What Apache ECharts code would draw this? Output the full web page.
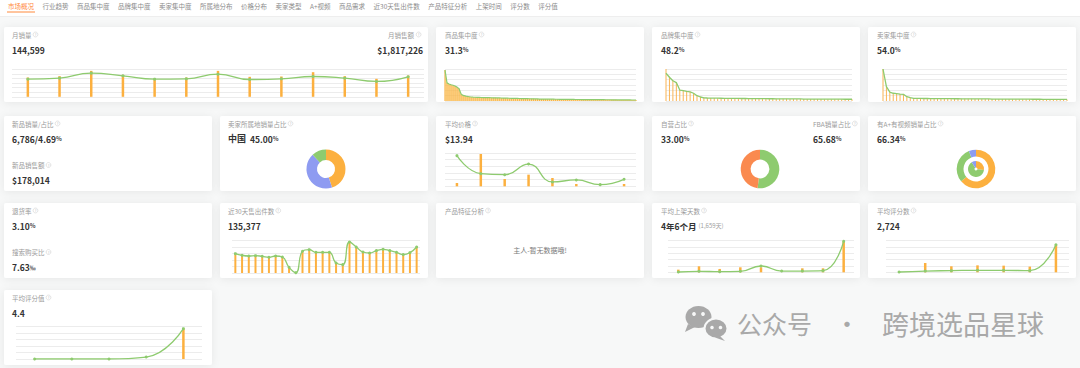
<!DOCTYPE html>
<html><head><meta charset="utf-8">
<script src="https://cdn.jsdelivr.net/npm/echarts@6/dist/echarts.min.js"></script>
<style>html,body{margin:0;padding:0;background:#f7f8f8;}#c{width:1080px;height:368px;}</style>
</head><body><div id="c"></div>
<script>
// ---------- data (relative heights) ----------
const tabLabels = ['市场概况','行业趋势','商品集中度','品牌集中度','卖家集中度','所属地分布','价格分布','卖家类型','A+视频','商品需求','近30天售出件数','产品特征分析','上架时间','评分数','评分值'];
const monthLabels = ['2024-06','2024-07','2024-08','2024-09','2024-10','2024-11','2024-12','2025-01','2025-02','2025-03','2025-04','2025-05','2025-06'];
const monthlyVolume = [3.88,4.10,5.20,4.61,3.88,3.95,4.97,3.80,3.95,4.46,4.10,3.37,4.39];
const monthlyRevenue = [4.24,4.54,5.70,4.83,4.02,4.24,5.70,4.39,4.46,5.41,4.54,3.95,4.68];
const productShare = [5.8,3.4,3.2,3.05,2.95,2.8,2.6,2.3,1.3,1.05,0.95,0.85,0.8,0.75,0.72,
  0.7,0.68,0.67,0.66,0.65,0.64,0.63,0.62,
  0.61,0.6,0.59,0.58,0.57,0.56,0.55,0.54,0.53,0.52,0.51,0.5,0.49,0.48,0.47,0.46,0.45,0.44,0.43,0.42,0.41,0.4,0.39,0.38,0.37,
  0.37,0.36,0.36,0.35,0.35,0.34,0.34,0.33,0.33,0.32,0.32,0.31,0.31,0.3,0.3,0.29,0.29,0.28,0.28,0.28,0.27,0.27,0.27,0.26,0.26,0.26,0.25,0.25,0.25,0.24,0.24,0.24,0.23,0.23,0.23,0.22,0.22,0.22,0.21,0.21,0.21,0.2,0.2,0.2,0.2,0.19,0.19,0.19];
const brandShareLine = [5.2,4.45,3.8,3.45,2.05,1.95,1.8,1.7,1.45,1.0,0.75,0.6,
  0.56,0.55,0.54,0.53,0.52,0.51,0.5,0.5,0.49,0.48,0.47,0.47,0.46,0.45,0.45,0.44,0.43,0.43,0.42,0.42,0.41,0.41,0.4,0.4,0.39,0.39,0.38,0.38,0.37,0.37,0.37,0.36,0.36,0.36,0.35,0.35,0.35,0.34,0.34,0.34,0.33,0.33,0.33];
const brandShareBar = [6.0,4.6,3.9,3.5,2.1,2.0,1.85,1.75,1.5,1.05,0.8,0.62,
  0.56,0.55,0.54,0.53,0.52,0.51,0.5,0.5,0.49,0.48,0.47,0.47,0.46,0.45,0.45,0.44,0.43,0.43,0.42,0.42,0.41,0.41,0.4,0.4,0.39,0.39,0.38,0.38,0.37,0.37,0.37,0.36,0.36,0.36,0.35,0.35,0.35,0.34,0.34,0.34,0.33,0.33,0.33];
const sellerShare = [6.0,2.7,1.65,1.45,1.38,1.3,1.25,0.8,0.62,
  0.5,0.49,0.48,0.47,0.47,0.46,0.45,0.45,0.44,0.44,0.43,0.43,0.42,0.42,0.41,0.41,0.4,0.4,0.39,0.39,0.38,0.38,0.38,0.37,0.37,0.37,0.36,0.36,0.36,0.35,0.35,0.35,0.34,0.34,0.34,0.33,0.33,0.33,0.32,0.32,0.32,0.31,0.31,0.31,0.3,0.3];
const priceBands = ['$0-5','$5-10','$10-15','$15-20','$20-25','$25-30','$30-35','$35+'];
const avgPriceLine = [4.6,1.9,1.74,3.34,0.65,0.95,0.25,1.05];
const priceBandVolume = [0.5,4.85,1.1,1.75,1.25,0.35,0,0.35];
const sold30Daily = [2.96,2.70,2.60,2.65,2.55,2.40,2.60,2.45,0.87,0.05,3.32,3.57,3.16,3.16,3.16,1.53,1.28,4.74,3.98,3.21,3.06,3.42,3.62,3.42,3.16,2.81,3.11,3.98];
const listingBands = ['<1月','1-3月','3-6月','6-12月','1-2年','2-3年','3-4年','4-5年','5年+'];
const listingLine = [0.05,0.16,0.1,0.16,1.0,0.2,0.2,0.26,4.9];
const listingBar = [0.42,0.95,0.53,0.79,0.79,0,0.63,0.63,4.9];
const reviewBands = ['0','1-10','10-50','50-100','100-500','500-1000','1000+'];
const reviewCountLine = [0.05,0.2,0.26,0.32,0.32,0.26,4.37];
const reviewCountBar = [0,1.47,0.95,1.1,1.05,0.9,4.37];
const ratingBands = ['<3.0','3.0-3.5','3.5-4.0','4.0-4.5','4.5-5.0'];
const ratingLine = [0,0,0,0.3,4.64];
const ratingBar = [0,0,0,0,4.64];
const originNames = ['中国','美国','其他'];
const originShare = [45,43,12];
const selfOpNames = ['非自营','自营'];
const selfOpShare = [52,48];
const aplusNames = ['有A+有视频','有A+无视频','无A+'];
const aplusOuter = [64,30,6];
const aplusInner = [27,64,9];

// ---------- helpers ----------
const ORANGE = '#fcb03f', GREEN = '#8ecb6f', PURPLE = '#8e9bf1', CORAL = '#fa8a4f', BLUE = '#8c9cf0';
const FONT = '"Noto Sans CJK SC","Noto Sans",sans-serif';
const f = (s, w) => (w || 'normal') + ' ' + s + 'px ' + FONT;
const mctx = document.createElement('canvas').getContext('2d');
const tw = (t, font) => { mctx.font = font; return mctx.measureText(t).width; };
const G = [];
const grids = [], xAxes = [], yAxes = [], series = [];

function txt(x, y, text, font, fill, align) {
  G.push({type:'text', x, y, silent:true, z:5,
    style:{text, font, fill, align:align||'left', verticalAlign:'middle', textAlign:align||'left', textVerticalAlign:'middle'}});
}
function icon(x, y) {
  G.push({type:'circle', silent:true, z:5, shape:{cx:x, cy:y, r:2.4}, style:{fill:'none', stroke:'#cfcfcf', lineWidth:0.6}});
  G.push({type:'text', x, y:y+0.2, silent:true, z:5, style:{text:'?', font:f(3.6), fill:'#c4c4c4', align:'center', verticalAlign:'middle', textAlign:'center', textVerticalAlign:'middle'}});
}
function title(x, y, text, rightAlign) {
  const font = f(6.5);
  if (rightAlign) { txt(x - 7, y, text, font, '#9a9a9a', 'right'); icon(x - 2.4, y); }
  else { txt(x, y, text, font, '#9a9a9a'); icon(x + tw(text, font) + 4, y); }
}
function val(x, y, num, unit, align) {
  const t = unit ? '{v|' + num + '}{u|' + unit + '}' : '{v|' + num + '}';
  G.push({type:'text', x, y, silent:true, z:5, style:{text:t, align:align||'left', verticalAlign:'middle', textAlign:align||'left', textVerticalAlign:'middle',
    rich:{v:{font:f(8.5,'bold'), fontSize:8.5, fontWeight:'bold', fontFamily:FONT, fill:'#333'},
          u:{font:f(6,'bold'), fontSize:6, fontWeight:'bold', fontFamily:FONT, fill:'#444'}}}});
}
function card(x, y, w, h) {
  G.push({type:'rect', silent:true, z:0, shape:{x, y, width:w, height:h, r:2},
    style:{fill:'#ffffff', shadowBlur:8, shadowColor:'rgba(0,0,0,0.07)', shadowOffsetY:1}});
}
function addChart(box, max, gap, cats) {
  const i = grids.length;
  grids.push({left:box[0], top:box[1], width:box[2], height:box[3], containLabel:false});
  xAxes.push({type:'category', gridIndex:i, data:cats, boundaryGap:gap, axisLine:{show:false}, axisTick:{show:false}, axisLabel:{show:false}, splitLine:{show:false}});
  yAxes.push({type:'value', gridIndex:i, min:0, max:max, interval:1, axisLine:{show:false}, axisTick:{show:false}, axisLabel:{show:false},
    splitLine:{show:true, lineStyle:{color:'#ececec', width:1}}});
  return i;
}
function addBar(i, data, w, color) {
  series.push({type:'bar', xAxisIndex:i, yAxisIndex:i, data, barWidth:w, silent:true, animation:false, itemStyle:{color:color||ORANGE}});
}
function addLine(i, data, o) {
  o = o || {};
  series.push(Object.assign({type:'line', xAxisIndex:i, yAxisIndex:i, data, smooth:true, silent:true, animation:false,
    symbol:'circle', symbolSize:3, itemStyle:{color:GREEN}, lineStyle:{color:GREEN, width:1.3}}, o));
}
const ranks = arr => arr.map((_, k) => k + 1);

// ---------- tab bar ----------
G.push({type:'rect', silent:true, z:0, shape:{x:0, y:0, width:1080, height:16.5}, style:{fill:'#ffffff'}});
G.push({type:'line', silent:true, z:0, shape:{x1:0, y1:16.5, x2:1080, y2:16.5}, style:{stroke:'#eeeeee', lineWidth:1}});
let tx = 8;
tabLabels.forEach((t, k) => {
  const font = f(6.5);
  const w = tw(t, font);
  txt(tx, 6, t, font, k === 0 ? '#ff8a3d' : '#8c8c8c');
  if (k === 0) G.push({type:'line', silent:true, z:5, shape:{x1:tx - 1, y1:12, x2:tx + w + 1, y2:12}, style:{stroke:'#ff8a3d', lineWidth:1}});
  tx += w + 8.5;
});

// ---------- cards ----------
const colX = [4, 220, 436, 652, 868], W = 208, H = 75;
const rowY = [27, 116, 203, 290];
card(4, rowY[0], 424, H);
[2, 3, 4].forEach(c => card(colX[c], rowY[0], W, H));
[0, 1, 2, 3, 4].forEach(c => card(colX[c], rowY[1], W, H));
[0, 1, 2, 3, 4].forEach(c => card(colX[c], rowY[2], W, H));
card(colX[0], rowY[3], W, H);

const tY = r => rowY[r] + 7.5, vY = r => rowY[r] + 22.5, t2Y = r => rowY[r] + 49, v2Y = r => rowY[r] + 64;

// row 1
title(12, tY(0), '月销量'); val(12, vY(0), '144,599');
title(421, tY(0), '月销售额', true); val(423, vY(0), '$1,817,226', '', 'right');
title(445, tY(0), '商品集中度'); val(445, vY(0), '31.3', '%');
title(661, tY(0), '品牌集中度'); val(661, vY(0), '48.2', '%');
title(877, tY(0), '卖家集中度'); val(877, vY(0), '54.0', '%');
// row 2
title(12, tY(1), '新品销量/占比'); val(12, vY(1), '6,786/4.69', '%');
title(12, t2Y(1), '新品销售额'); val(12, v2Y(1), '$178,014');
title(228, tY(1), '卖家所属地销量占比');
txt(228, vY(1), '中国', f(9, 'bold'), '#333'); val(250, vY(1), '45.00', '%');
title(445, tY(1), '平均价格'); val(445, vY(1), '$13.94');
title(661, tY(1), '自营占比'); val(661, vY(1), '33.00', '%');
title(813, tY(1), 'FBA销量占比'); val(813, vY(1), '65.68', '%');
title(877, tY(1), '有A+有视频销量占比'); val(877, vY(1), '66.34', '%');
// row 3
title(12, tY(2), '退货率'); val(12, vY(2), '3.10', '%');
title(12, t2Y(2), '搜索购买比'); val(12, v2Y(2), '7.63', '‰');
title(228, tY(2), '近30天售出件数'); val(228, vY(2), '135,377');
title(445, tY(2), '产品特征分析');
txt(540, rowY[2] + 46.5, '主人-暂无数据哦!', f(7), '#7a7a7a', 'center');
title(661, tY(2), '平均上架天数');
txt(661, vY(2), '4年6个月', f(8.5, 'bold'), '#333');
txt(661 + tw('4年6个月', f(8.5, 'bold')) + 2, vY(2), '(1,659天)', f(6), '#a0a0a0');
title(877, tY(2), '平均评分数'); val(877, vY(2), '2,724');
// row 4
title(12, tY(3), '平均评分值'); val(12, vY(3), '4.4');

// ---------- charts ----------
let g;
g = addChart([12, 69.5, 412, 27.3], 6, true, monthLabels);
addBar(g, monthlyRevenue, 2.5); addLine(g, monthlyVolume);

g = addChart([445, 69, 191, 32], 6, false, ranks(productShare));
addBar(g, productShare, 0.8, '#f5a52a');
addLine(g, productShare, {smooth:false, symbol:'none', lineStyle:{color:GREEN, width:1.2}, areaStyle:{color:'rgba(252,192,88,0.75)'}});

g = addChart([666, 69, 186, 32], 6, false, ranks(brandShareLine));
addBar(g, brandShareBar, 1, '#f9b455');
addLine(g, brandShareLine, {smooth:false, symbol:'emptyCircle', symbolSize:3.5, lineStyle:{color:GREEN, width:1.3}});

g = addChart([883, 69, 184, 32], 6, false, ranks(sellerShare));
addBar(g, sellerShare, 1, '#f9b455');
addLine(g, sellerShare, {smooth:false, symbol:'emptyCircle', symbolSize:3.5, lineStyle:{color:GREEN, width:1.3}});

g = addChart([445, 153, 191, 33.3], 5, true, priceBands);
addBar(g, priceBandVolume, 2.5); addLine(g, avgPriceLine);

g = addChart([232, 240.3, 188, 32.7], 5, true, ranks(sold30Daily));
addBar(g, sold30Daily, 2); addLine(g, sold30Daily);

g = addChart([668, 240.7, 186, 31.6], 5, true, listingBands);
addBar(g, listingBar, 2.5); addLine(g, listingLine);

g = addChart([886, 240.7, 183, 31.6], 5, true, reviewBands);
addBar(g, reviewCountBar, 2.5); addLine(g, reviewCountLine);

g = addChart([16, 326.3, 186, 32.7], 5, true, ratingBands);
addBar(g, ratingBar, 2.5); addLine(g, ratingLine);

// donuts
const pieBase = {type:'pie', silent:true, animation:false, startAngle:90, clockwise:true,
  label:{show:false}, labelLine:{show:false}, emphasis:{disabled:true}, itemStyle:{borderWidth:0}};
series.push(Object.assign({}, pieBase, {center:[326, 169], radius:[9, 19.5],
  data: originNames.map((n, k) => ({name:n, value:originShare[k], itemStyle:{color:[ORANGE, PURPLE, GREEN][k]}}))}));
series.push(Object.assign({}, pieBase, {center:[760, 169], radius:[9.4, 19.3],
  data: selfOpNames.map((n, k) => ({name:n, value:selfOpShare[k], itemStyle:{color:[GREEN, CORAL][k]}}))}));
series.push(Object.assign({}, pieBase, {center:[976, 169], radius:[12.5, 19.3],
  data: aplusNames.map((n, k) => ({name:n, value:aplusOuter[k], itemStyle:{color:[ORANGE, GREEN, BLUE][k]}}))}));
series.push(Object.assign({}, pieBase, {center:[976, 169], radius:[1.5, 8],
  data: aplusNames.map((n, k) => ({name:n, value:aplusInner[k], itemStyle:{color:[ORANGE, GREEN, BLUE][k]}}))}));

// ---------- watermark ----------
const WM = '#a9a9a9', BG = '#f7f8f8';
G.push({type:'ellipse', silent:true, z:6, shape:{cx:698.5, cy:317, rx:13, ry:11}, style:{fill:WM}});
G.push({type:'polygon', silent:true, z:6, shape:{points:[[688,324],[685,332],[695,327]]}, style:{fill:WM}});
G.push({type:'circle', silent:true, z:7, shape:{cx:694, cy:314, r:1.9}, style:{fill:BG}});
G.push({type:'circle', silent:true, z:7, shape:{cx:703, cy:314, r:1.9}, style:{fill:BG}});
G.push({type:'ellipse', silent:true, z:8, shape:{cx:716, cy:328.5, rx:11.5, ry:10}, style:{fill:WM, stroke:BG, lineWidth:2}});
G.push({type:'polygon', silent:true, z:8, shape:{points:[[720,336],[725,341],[715,337.5]]}, style:{fill:WM}});
G.push({type:'circle', silent:true, z:9, shape:{cx:712, cy:327.5, r:1.8}, style:{fill:BG}});
G.push({type:'circle', silent:true, z:9, shape:{cx:720.5, cy:327.5, r:1.8}, style:{fill:BG}});
txt(737, 323, '公众号', f(25), WM);
txt(847, 323, '·', f(25), WM, 'center');
txt(882, 323, '跨境选品星球', f(27), WM);

const chart = echarts.init(document.getElementById('c'), null, {renderer:'svg'});
chart.setOption({
  backgroundColor: BG,
  animation: false,
  tooltip: {show:false},
  grid: grids, xAxis: xAxes, yAxis: yAxes, series: series,
  graphic: {elements: G}
});
</script>
</body></html>
